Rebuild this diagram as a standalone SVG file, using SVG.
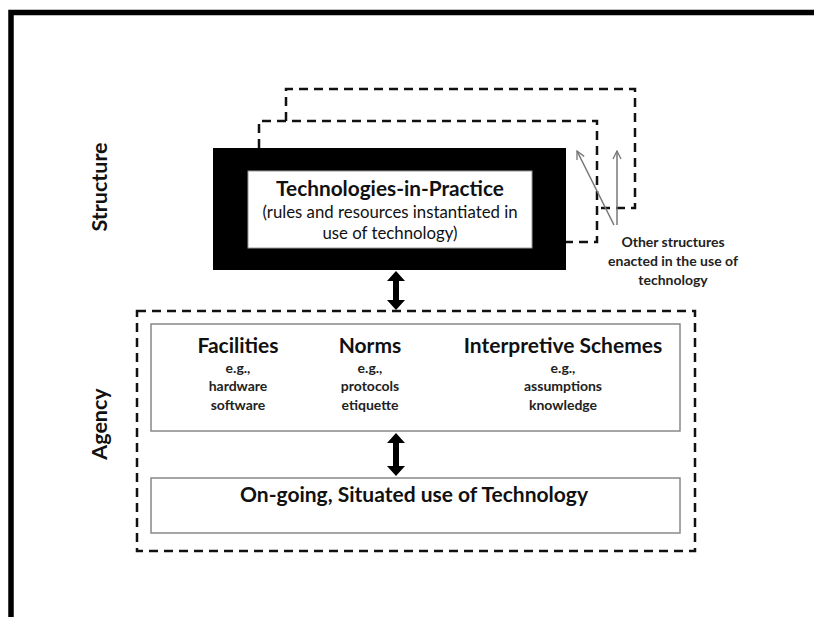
<svg xmlns="http://www.w3.org/2000/svg" width="814" height="617" viewBox="0 0 814 617">
<defs>
<style>
.t{font-family:Lato,"Open Sans","Liberation Sans",sans-serif;fill:#111;text-anchor:middle}
.b{font-weight:bold}
.s{fill:#222}
.dash{fill:none;stroke:#111;stroke-width:2.5;stroke-dasharray:9 6}
.box{fill:#fff;stroke:#888;stroke-width:1.5}
.thin{fill:none;stroke:#777;stroke-width:1.5}
</style>
<marker id="open" viewBox="0 0 10 10" refX="9" refY="5" markerWidth="10" markerHeight="10" markerUnits="userSpaceOnUse" orient="auto">
<path d="M1,1 L9,5 L1,9" fill="none" stroke="#777" stroke-width="1.3"/>
</marker>
</defs>
<rect width="814" height="617" fill="#fff"/>
<path d="M11,617 V12.5 H814" fill="none" stroke="#000" stroke-width="5.5"/>

<text class="t b" font-size="21.5" transform="translate(107,187) rotate(-90)">Structure</text>
<text class="t b" font-size="21.5" transform="translate(107,424) rotate(-90)">Agency</text>

<g id="connectors">
<path class="dash" d="M259,148 V121 H597 V242 H566"/>
<path class="dash" d="M286,121 V89 H635 V208 H597"/>
<line class="thin" x1="614" y1="225" x2="577" y2="151" marker-end="url(#open)"/>
<line class="thin" x1="617" y1="225" x2="617" y2="151" marker-end="url(#open)"/>
<polygon fill="#000" points="396,271 405,281 399,281 399,300 405,300 396,310 387,300 393,300 393,281 387,281"/>
<polygon fill="#000" points="396,433 405,443 399,443 399,466 405,466 396,476 387,466 393,466 393,443 387,443"/>
</g>

<g id="tip">
<rect x="213" y="148" width="353" height="122" fill="#000"/>
<rect x="248" y="171" width="284" height="77" fill="#fff" stroke="#999" stroke-width="1"/>
<text class="t b" font-size="20.8" x="390" y="196">Technologies-in-Practice</text>
<text class="t" font-size="16.8" x="390" y="218">(rules and resources instantiated in</text>
<text class="t" font-size="16.8" x="390" y="239">use of technology)</text>
</g>

<g id="other">
<text class="t b s" font-size="14" x="673" y="247">Other structures</text>
<text class="t b s" font-size="14" x="673" y="266">enacted in the use of</text>
<text class="t b s" font-size="14" x="673" y="285">technology</text>
</g>

<g id="agency">
<rect class="dash" x="137" y="311" width="558" height="240"/>
</g>

<g id="modalities">
<rect class="box" x="151" y="324" width="529" height="107"/>
<text class="t b" font-size="21" x="238" y="353">Facilities</text>
<text class="t b s" font-size="14" x="238" y="373">e.g.,</text>
<text class="t b s" font-size="14" x="238" y="391">hardware</text>
<text class="t b s" font-size="14" x="238" y="410">software</text>
<text class="t b" font-size="21" x="370" y="353">Norms</text>
<text class="t b s" font-size="14" x="370" y="373">e.g.,</text>
<text class="t b s" font-size="14" x="370" y="391">protocols</text>
<text class="t b s" font-size="14" x="370" y="410">etiquette</text>
<text class="t b" font-size="21" x="563" y="353">Interpretive Schemes</text>
<text class="t b s" font-size="14" x="563" y="373">e.g.,</text>
<text class="t b s" font-size="14" x="563" y="391">assumptions</text>
<text class="t b s" font-size="14" x="563" y="410">knowledge</text>
</g>

<g id="use">
<rect class="box" x="151" y="478" width="529" height="55"/>
<text class="t b" font-size="21" x="414" y="502">On-going, Situated use of Technology</text>
</g>
</svg>
